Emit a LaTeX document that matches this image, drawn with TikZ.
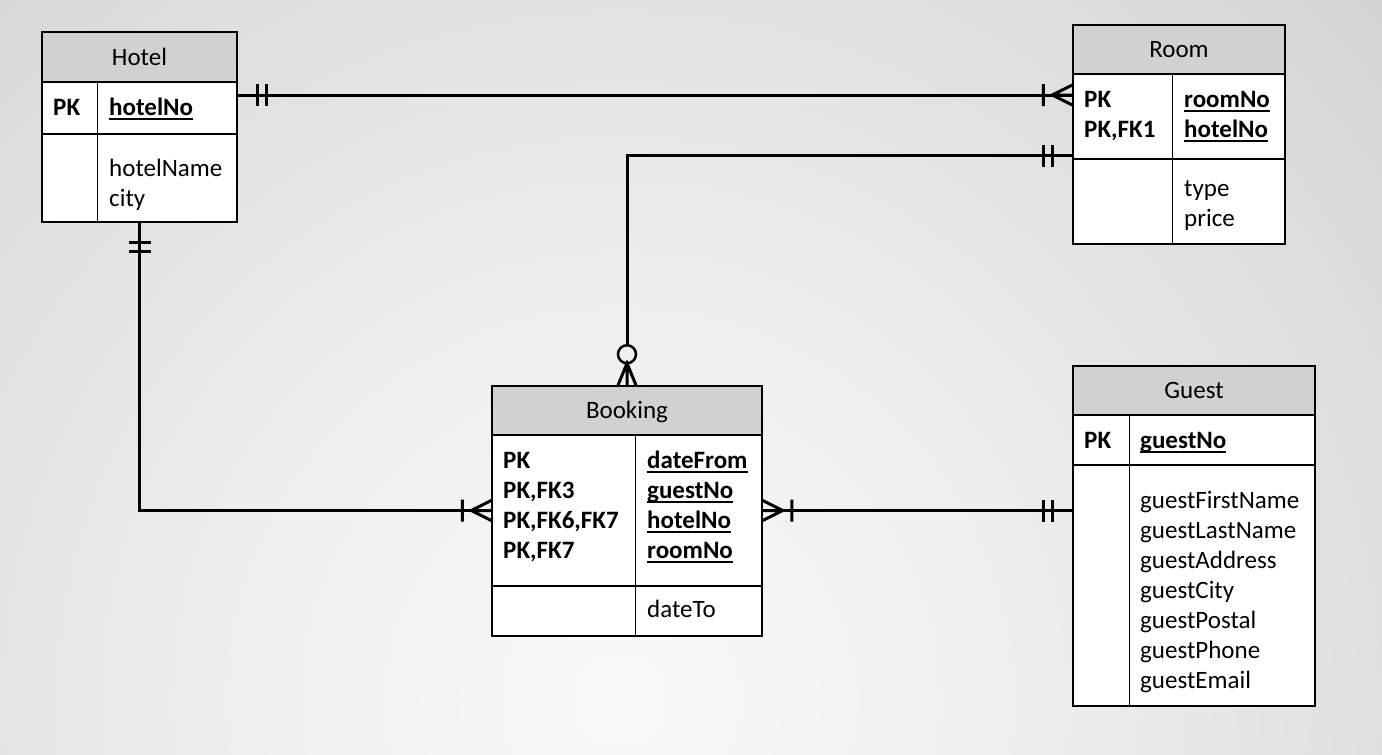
\documentclass[tikz,border=0pt]{standalone}
\usepackage{fontspec}
\setmainfont{Carlito}
\usetikzlibrary{fit,calc}

% backdrop colours, light in the lower middle and darker toward the corners
\definecolor{bgA}{gray}{0.975}
\definecolor{bgB}{gray}{0.935}
\definecolor{bgC}{gray}{0.87}
\definecolor{bgD}{gray}{0.77}
\definecolor{bgE}{gray}{0.71}
\definecolor{bgF}{gray}{0.68}
\definecolor{hdrgray}{gray}{0.82}
\pgfdeclareradialshading{backdrop}{\pgfpoint{0bp}{0bp}}{%
  color(0bp)=(bgA); color(8.3bp)=(bgB); color(16.7bp)=(bgC);
  color(29bp)=(bgD); color(41.7bp)=(bgE); color(50bp)=(bgF)}

% underlined key name with a rule at a fixed depth
\newcommand{\ulword}[1]{\setbox0\hbox{#1}\rlap{\rule[-5pt]{\wd0}{1.6pt}}\box0}

\tikzset{
  boxline/.style={draw=black, line width=1.5pt},
  hdr/.style={boxline, fill=hdrgray, inner sep=0pt},
  body/.style={boxline, fill=white, inner sep=0pt},
  txt/.style={inner sep=0pt, anchor=base west, font=\fontsize{25}{30}\selectfont},
  keytxt/.style={inner sep=0pt, anchor=base west, font=\fontsize{25}{30}\selectfont\bfseries},
  title/.style={inner sep=0pt, anchor=base, font=\fontsize{25}{30}\selectfont},
  conn/.style={line width=3pt},
  % cardinality marks, drawn with x pointing away from the entity
  mandone/.pic={\draw[conn] (20,-11)--(20,11) (29,-11)--(29,11);},
  onemany/.pic={\draw[conn] (0,-10)--(20,0)--(0,10) (0,0)--(20,0) (29,-11)--(29,11);},
  zeromany/.pic={\draw[conn] (0,-9)--(22,0)--(0,9) (0,0)--(22,0);
                 \draw[line width=2.5pt] (31,0) circle (9);}
}

\begin{document}
\begin{tikzpicture}[x=1pt,y=-1pt]
\useasboundingbox (0,0) rectangle (1382,755);
\begin{scope}
  \clip (0,0) rectangle (1382,755);
  \shade[shading=backdrop] (620,700) circle (1200);
\end{scope}

% ---------------- Hotel ----------------
\node[hdr,  fit={(42,32) (237,82)}]   (hotelH) {};
\node[body, fit={(42,82) (237,134)}]  (hotelK) {};
\node[body, fit={(42,134) (237,222)}] (hotelA) {};
\draw[boxline] ([xshift=56pt]hotelK.north west) -- ([xshift=56pt]hotelA.south west);
\node[title]  (hotelT)  at ([yshift=-8pt]hotelH.center) {Hotel};
\node[keytxt] (hotelPK) at (53,115) {PK};
\node[keytxt] (hotelNo) at (109,115) {\ulword{hotelNo}};
\node[txt]    (hotelNm) at (109,176) {hotelName};
\node[txt]    (hotelCy) at (109,206) {city};

% ---------------- Room ----------------
\node[hdr,  fit={(1073,25) (1285,74)}]   (roomH) {};
\node[body, fit={(1073,74) (1285,159)}]  (roomK) {};
\node[body, fit={(1073,159) (1285,244)}] (roomA) {};
\draw[boxline] ([xshift=100pt]roomK.north west) -- ([xshift=100pt]roomA.south west);
\node[title]  (roomT)   at ([yshift=-8pt]roomH.center) {Room};
\node[keytxt] (roomPK1) at (1084,107) {PK};
\node[keytxt] (roomPK2) at (1084,137) {PK,FK1};
\node[keytxt] (roomNo)  at (1184,107) {\ulword{roomNo}};
\node[keytxt] (roomHNo) at (1184,137) {\ulword{hotelNo}};
\node[txt]    (roomTy)  at (1184,196) {type};
\node[txt]    (roomPr)  at (1184,226) {price};

% ---------------- Booking ----------------
\node[hdr,  fit={(492,386) (762,435)}]  (bookH) {};
\node[body, fit={(492,435) (762,586)}]  (bookK) {};
\node[body, fit={(492,586) (762,636)}]  (bookA) {};
\draw[boxline] ([xshift=144pt]bookK.north west) -- ([xshift=144pt]bookA.south west);
\node[title]  (bookT)   at ([yshift=-8pt]bookH.center) {Booking};
\node[keytxt] (bookPK1) at (503,468) {PK};
\node[keytxt] (bookPK2) at (503,498) {PK,FK3};
\node[keytxt] (bookPK3) at (503,528) {PK,FK6,FK7};
\node[keytxt] (bookPK4) at (503,558) {PK,FK7};
\node[keytxt] (bookDF)  at (647,468) {\ulword{dateFrom}};
\node[keytxt] (bookGN)  at (647,498) {\ulword{guestNo}};
\node[keytxt] (bookHN)  at (647,528) {\ulword{hotelNo}};
\node[keytxt] (bookRN)  at (647,558) {\ulword{roomNo}};
\node[txt]    (bookDT)  at (647,617) {dateTo};

% ---------------- Guest ----------------
\node[hdr,  fit={(1073,366) (1315,415)}] (guestH) {};
\node[body, fit={(1073,415) (1315,465)}] (guestK) {};
\node[body, fit={(1073,465) (1315,706)}] (guestA) {};
\draw[boxline] ([xshift=57pt]guestK.north west) -- ([xshift=57pt]guestA.south west);
\node[title]  (guestT)  at ([yshift=-8pt]guestH.center) {Guest};
\node[keytxt] (guestPK) at (1084,448) {PK};
\node[keytxt] (guestNo) at (1140,448) {\ulword{guestNo}};
\foreach \a [count=\i] in {guestFirstName,guestLastName,guestAddress,guestCity,guestPostal,guestPhone,guestEmail}
  \node[txt] (guestAt\i) at (1140,478+30*\i) {\a};

% ---------------- relationships ----------------
% Hotel -- Room
\draw[conn] ([yshift=13pt]hotelK.east) -- ([yshift=21.5pt]roomK.west);
\pic at ([yshift=13pt]hotelK.east) {mandone};
\pic[rotate=180] at ([yshift=21.5pt]roomK.west) {onemany};

% Room -- Booking
\draw[conn, shorten >=40pt] ([yshift=4pt]roomK.south west) -| (bookH.north);
\pic[rotate=180] at ([yshift=4pt]roomK.south west) {mandone};
\pic[rotate=90] at (bookH.north) {zeromany};

% Hotel -- Booking
\draw[conn] (hotelA.south) |- (bookK.west);
\pic[rotate=-90] at (hotelA.south) {mandone};
\pic[rotate=180] at (bookK.west) {onemany};

% Guest -- Booking
\draw[conn] (bookK.east) -- (guestA.west |- bookK.east);
\pic at (bookK.east) {onemany};
\pic[rotate=180] at (guestA.west |- bookK.east) {mandone};
\end{tikzpicture}
\end{document}
